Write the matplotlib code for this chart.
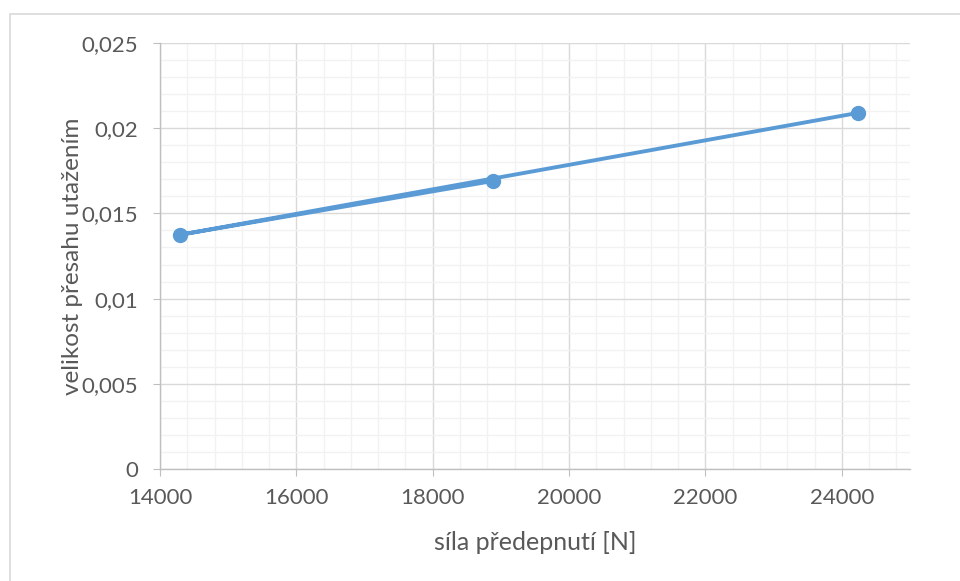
import matplotlib.pyplot as plt
import matplotlib.ticker as mticker
from matplotlib.patches import Rectangle

# data in the order the series connects its points
sila = [18880, 14300, 24240]
presah = [0.0169, 0.01375, 0.0209]

x_ticks = [14000, 16000, 18000, 20000, 22000, 24000]
y_ticks = [0, 0.005, 0.01, 0.015, 0.02, 0.025]

plt.rcParams['font.family'] = ['Lato', 'DejaVu Sans']
text_col = '#595959'

fig = plt.figure(figsize=(9.6, 5.81), dpi=100)
ax = fig.add_axes([160/960, 112/581, 750/960, 426/581])

ax.plot(sila, presah, color='#5B9BD5', lw=2.8, marker='o', ms=10,
        solid_capstyle='round', zorder=3)

ax.set_xlim(14000, 25000)
ax.set_ylim(0, 0.025)
ax.set_xticks(x_ticks)
ax.set_yticks(y_ticks)
ax.xaxis.set_minor_locator(mticker.MultipleLocator(400))
ax.yaxis.set_minor_locator(mticker.MultipleLocator(0.001))
ax.set_yticklabels(['0', '0,005', '0,01', '0,015', '0,02', '0,025'])
ax.set_xticklabels([str(t) for t in x_ticks])

ax.grid(which='major', color='#D9D9D9', lw=1.0)
ax.grid(which='minor', color='#F2F2F2', lw=1.0)
ax.set_axisbelow(True)

for s in ['top', 'right']:
    ax.spines[s].set_visible(False)
for s in ['left', 'bottom']:
    ax.spines[s].set_color('#BFBFBF')
    ax.spines[s].set_linewidth(1.0)

ax.tick_params(which='major', length=5, color='#BFBFBF', labelcolor=text_col,
               labelsize=16)
ax.tick_params(axis='y', which='major', pad=11)
ax.tick_params(axis='x', which='major', pad=9)
ax.tick_params(which='minor', length=0)

ax.set_xlabel('síla předepnutí [N]', color=text_col, fontsize=18, labelpad=16)
ax.set_ylabel('velikost přesahu utažením', color=text_col, fontsize=17.5,
              va='center')
ax.yaxis.set_label_coords(-0.116, 0.5)

fig.patches.append(Rectangle((10/960, -0.05), 1.0, 1.05 - 14/581,
                             transform=fig.transFigure, fill=False,
                             edgecolor='#D9D9D9', lw=1.2))

fig.savefig('out.png', dpi=100)
